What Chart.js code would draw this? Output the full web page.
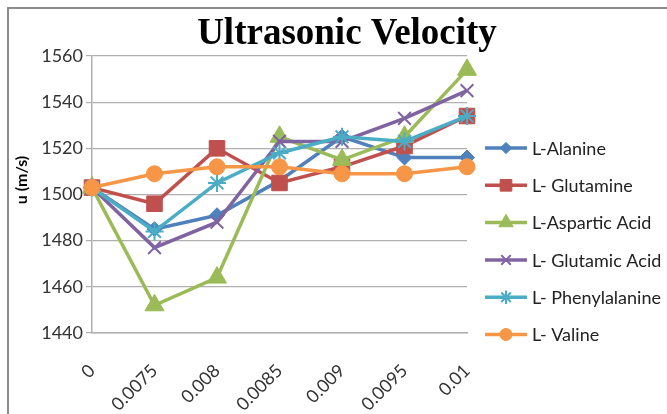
<!DOCTYPE html>
<html>
<head>
<meta charset="utf-8">
<script src="https://cdn.jsdelivr.net/npm/chart.js@4.4.1/dist/chart.umd.min.js"></script>
<style>
  html, body { margin: 0; padding: 0; background: #fff; overflow: hidden; }
  #wrap { position: relative; width: 667px; height: 414px; }
  #frame {
    position: absolute; left: 7px; top: 7px; width: 700px; height: 450px;
    border: 2px solid #8c8c8c; box-sizing: border-box; pointer-events: none;
  }
</style>
</head>
<body>
<div id="wrap">
  <canvas id="chart" width="667" height="414"></canvas>
  <div id="frame"></div>
</div>
<script>
  const chartTitle = "Ultrasonic Velocity";
  const yAxisTitle = "u (m/s)";

  // concentration categories on the x axis
  const concentrations = ["0", "0.0075", "0.008", "0.0085", "0.009", "0.0095", "0.01"];

  const yMin = 1440;
  const yMax = 1560;
  const yStep = 20;

  const seriesNames = [
    "L-Alanine",
    "L- Glutamine",
    "L-Aspartic Acid",
    "L- Glutamic Acid",
    "L- Phenylalanine",
    "L- Valine"
  ];

  const alanine = [1503, 1485, 1491, 1506, 1525, 1516, 1516];
  const glutamine = [1503, 1496, 1520, 1505, 1512, 1521, 1534];
  const asparticAcid = [1503, 1452, 1464, 1525, 1515, 1525, 1554];
  const glutamicAcid = [1503, 1477, 1488, 1523, 1523, 1533, 1545];
  const phenylalanine = [1503, 1484, 1505, 1518, 1525, 1523, 1534];
  const valine = [1503, 1509, 1512, 1512, 1509, 1509, 1512];

  const seriesValues = [alanine, glutamine, asparticAcid, glutamicAcid, phenylalanine, valine];
  const seriesColors = ["#4f81bd", "#c0504d", "#9bbb59", "#8064a2", "#4bacc6", "#f79646"];
  const markerStyles = ["rectRot", "rect", "triangle", "crossRot", "star", "circle"];
  const markerSizes = [7.5, 11, 11, 9, 9, 8];

  const legendX = 485;
  const legendTop = 148;
  const legendGap = 37.3;

  const datasets = seriesNames.map((name, i) => {
    const open = markerStyles[i] === "crossRot" || markerStyles[i] === "star";
    return {
      label: name,
      data: seriesValues[i],
      borderColor: seriesColors[i],
      backgroundColor: seriesColors[i],
      borderWidth: 3.5,
      pointStyle: markerStyles[i],
      pointRadius: markerSizes[i],
      pointBorderWidth: open ? 2 : 1,
      pointBackgroundColor: seriesColors[i],
      pointBorderColor: seriesColors[i],
      tension: 0,
      // later series sit on top, like the original
      order: seriesNames.length - i
    };
  });

  const extraText = {
    id: "extraText",
    afterDraw(chart) {
      const ctx = chart.ctx;
      ctx.save();

      ctx.fillStyle = "#000";
      ctx.font = 'bold 37px "Liberation Serif"';
      ctx.textAlign = "center";
      ctx.textBaseline = "alphabetic";
      ctx.fillText(chartTitle, 347, 44);

      ctx.save();
      ctx.translate(22, 180);
      ctx.rotate(-Math.PI / 2);
      ctx.font = "bold 16px Lato";
      ctx.textBaseline = "middle";
      ctx.fillText(yAxisTitle, 0, 0);
      ctx.restore();

      // legend: line segment with marker, then the name
      chart.data.datasets.forEach((ds, i) => {
        const y = legendTop + i * legendGap;
        ctx.strokeStyle = ds.borderColor;
        ctx.fillStyle = ds.borderColor;
        ctx.lineWidth = 3.5;
        ctx.beginPath();
        ctx.moveTo(legendX, y);
        ctx.lineTo(legendX + 42, y);
        ctx.stroke();

        ctx.lineWidth = ds.pointBorderWidth;
        Chart.helpers.drawPoint(ctx, {
          pointStyle: ds.pointStyle,
          rotation: 0,
          radius: ds.pointRadius * 0.75,
          borderWidth: ds.pointBorderWidth
        }, legendX + 21, y);

        ctx.fillStyle = "#222";
        ctx.font = "18px Lato";
        ctx.textAlign = "left";
        ctx.textBaseline = "middle";
        ctx.fillText(ds.label, legendX + 47, y + 1);
      });

      ctx.restore();
    }
  };

  new Chart(document.getElementById("chart"), {
    type: "line",
    data: {
      labels: concentrations,
      datasets: datasets
    },
    options: {
      responsive: false,
      animation: false,
      layout: {
        padding: { top: 56, right: 200, bottom: 0, left: 0 }
      },
      plugins: {
        legend: { display: false },
        title: { display: false },
        tooltip: { enabled: false }
      },
      scales: {
        x: {
          offset: false,
          afterFit(scale) {
            scale.height = 81;
          },
          grid: {
            display: true,
            drawOnChartArea: false,
            drawTicks: false
          },
          border: { color: "#b0b0b0", width: 1.5 },
          ticks: {
            color: "#333",
            font: { family: "Lato", size: 18 },
            maxRotation: 45,
            minRotation: 45,
            autoSkip: false,
            padding: 27
          }
        },
        y: {
          min: yMin,
          max: yMax,
          afterFit(scale) {
            scale.width = 92;
          },
          grid: {
            color: "#b0b0b0",
            lineWidth: 1.2,
            tickLength: 6
          },
          border: { color: "#b0b0b0", width: 1.5 },
          ticks: {
            stepSize: yStep,
            color: "#333",
            font: { family: "Lato", size: 18 },
            padding: 3,
            callback(value) {
              return String(value);
            }
          }
        }
      }
    },
    plugins: [extraText]
  });
</script>
</body>
</html>
